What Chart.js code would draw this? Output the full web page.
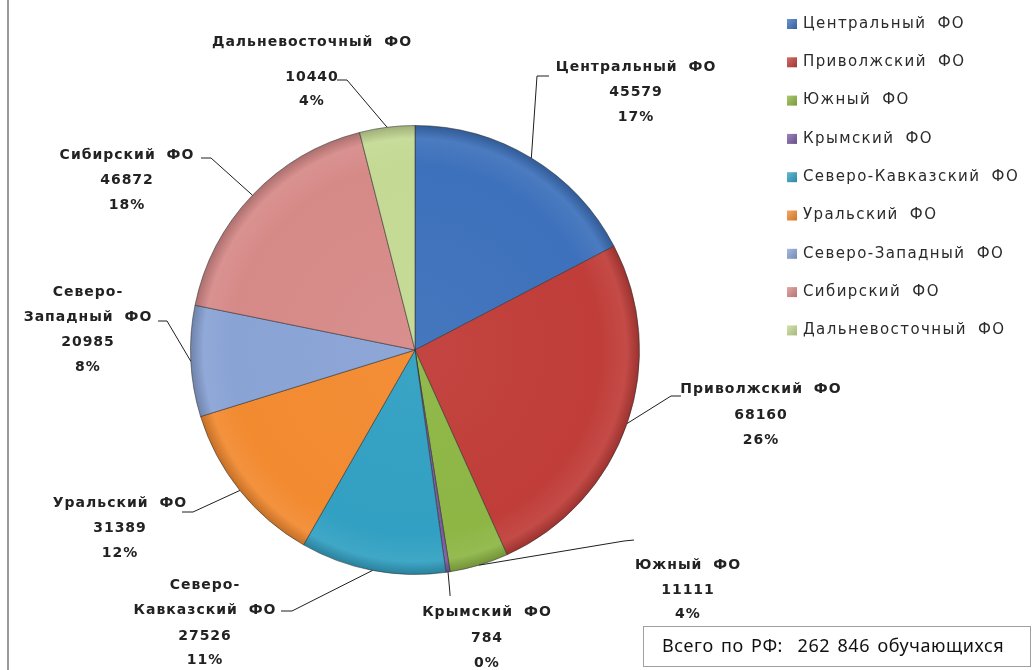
<!DOCTYPE html>
<html lang="ru">
<head>
<meta charset="utf-8">
<title>Обучающиеся по федеральным округам</title>
<script src="https://cdn.jsdelivr.net/npm/chart.js@4.4.1/dist/chart.umd.min.js"></script>
<style>
  html, body { margin: 0; padding: 0; background: #fff; }
  #wrap { width: 1032px; height: 670px; }
</style>
</head>
<body>
<div id="wrap"><canvas id="chart" width="1032" height="670"></canvas></div>
<script>
// data
const regions = ['Центральный ФО', 'Приволжский ФО', 'Южный ФО', 'Крымский ФО', 'Северо-Кавказский ФО',
    'Уральский ФО', 'Северо-Западный ФО', 'Сибирский ФО', 'Дальневосточный ФО'];
const students = [45579, 68160, 11111, 784, 27526, 31389, 20985, 46872, 10440];
const shares = [17, 26, 4, 0, 11, 12, 8, 18, 4];

const colors = ['#3d71bb', '#c03d39', '#8db645', '#7a5ca1', '#32a0c2', '#f28a30', '#89a3d5', '#d68a88', '#c4d993'];

// where each data label sits (centre x, line y's) and its leader tick
const labelPlaces = [
    { x: 636, y: [67, 92, 117], tick: [[549, 76], [537, 76]] },
    { x: 761, y: [389, 415, 440], tick: [[681, 396], [671, 396]] },
    { x: 688, y: [565, 590, 614], tick: [[634, 540], [624, 541]] },
    { x: 487, y: [612, 638, 663], tick: [[450, 596], [450, 594]] },
    { x: 205, y: [585, 610, 636, 660], tick: [[281, 611], [292, 611]] },
    { x: 120, y: [503, 528, 553], tick: [[182, 512], [193, 512]] },
    { x: 88, y: [292, 317, 342, 367], tick: [[158, 321], [167, 321]] },
    { x: 127, y: [155, 180, 205], tick: [[201, 158], [211, 158]] },
    { x: 312, y: [42, 77, 101], tick: [[337, 80], [347, 80]] }
];

const total = students.reduce((a, b) => a + b, 0);
const fmt = n => String(n).replace(/\B(?=(\d{3})+(?!\d))/g, ' ');

function shade(hex, amt) {
    const n = parseInt(hex.slice(1), 16);
    let r = n >> 16, g = (n >> 8) & 255, b = n & 255;
    const f = c => Math.round(amt >= 0 ? c + (255 - c) * amt : c * (1 + amt));
    return `rgb(${f(r)},${f(g)},${f(b)})`;
}

const gradients = [];
function sliceFill(context) {
    const i = context.dataIndex;
    const base = colors[i];
    const area = context.chart.chartArea;
    if (!area) return base;
    if (gradients[i]) return gradients[i];
    const ctx = context.chart.ctx;
    const cx = (area.left + area.right) / 2;
    const cy = (area.top + area.bottom) / 2;
    const r = Math.min(area.right - area.left, area.bottom - area.top) / 2;
    const g = ctx.createRadialGradient(cx, cy, 0, cx, cy, r);
    g.addColorStop(0, shade(base, 0.04));
    g.addColorStop(0.82, base);
    g.addColorStop(0.94, shade(base, 0.07));
    g.addColorStop(1, shade(base, -0.2));
    gradients[i] = g;
    return g;
}

const framePlugin = {
    id: 'frame',
    beforeDraw(chart) {
        const ctx = chart.ctx;
        ctx.save();
        ctx.strokeStyle = '#9a9a9a';
        ctx.lineWidth = 2;
        ctx.beginPath();
        ctx.moveTo(8, 0);
        ctx.lineTo(8, chart.height);
        ctx.stroke();
        ctx.restore();
    }
};

const dataLabelsPlugin = {
    id: 'dataLabels',
    afterDatasetsDraw(chart) {
        const ctx = chart.ctx;
        const meta = chart.getDatasetMeta(0);
        ctx.save();
        meta.data.forEach((arc, i) => {
            const { x, y, startAngle, endAngle, outerRadius } = arc.getProps(['x', 'y', 'startAngle', 'endAngle', 'outerRadius'], true);
            const mid = (startAngle + endAngle) / 2;
            const px = x + Math.cos(mid) * outerRadius;
            const py = y + Math.sin(mid) * outerRadius;
            const place = labelPlaces[i];

            ctx.strokeStyle = '#1e1e1e';
            ctx.lineWidth = 1;
            ctx.beginPath();
            ctx.moveTo(place.tick[0][0], place.tick[0][1]);
            ctx.lineTo(place.tick[1][0], place.tick[1][1]);
            ctx.lineTo(px, py);
            ctx.stroke();

            const name = chart.data.labels[i];
            let lines;
            if (place.y.length === 4) {
                const cut = name.indexOf('-') + 1;
                lines = [name.slice(0, cut), name.slice(cut)];
            } else {
                lines = [name];
            }
            lines.push(String(chart.data.datasets[0].data[i]), shares[i] + '%');

            ctx.fillStyle = '#222';
            ctx.font = 'bold 14px "DejaVu Sans"';
            ctx.letterSpacing = '1px';
            ctx.wordSpacing = '5px';
            ctx.textAlign = 'center';
            ctx.textBaseline = 'middle';
            lines.forEach((t, k) => ctx.fillText(t, place.x, place.y[k]));
        });
        ctx.restore();
    }
};

const legendPlugin = {
    id: 'sideLegend',
    afterDraw(chart) {
        const ctx = chart.ctx;
        ctx.save();
        ctx.font = '15px "DejaVu Sans"';
        ctx.letterSpacing = '1.4px';
        ctx.wordSpacing = '5px';
        ctx.textAlign = 'left';
        ctx.textBaseline = 'middle';
        chart.data.labels.forEach((label, i) => {
            const yy = 24 + i * 38.3;
            const c = colors[i];
            const g = ctx.createLinearGradient(787, yy - 5, 797, yy + 5);
            g.addColorStop(0, shade(c, 0.25));
            g.addColorStop(1, shade(c, -0.15));
            ctx.fillStyle = g;
            ctx.fillRect(787, yy - 5, 10, 10);
            ctx.fillStyle = '#2a2a2a';
            ctx.fillText(label, 803, yy);
        });

        // total box
        ctx.strokeStyle = '#a0a0a0';
        ctx.lineWidth = 1;
        ctx.strokeRect(643.5, 626.5, 387, 40);
        ctx.font = '18px "Noto Sans"';
        ctx.letterSpacing = '0.6px';
        ctx.wordSpacing = '2px';
        ctx.fillStyle = '#111';
        ctx.fillText('Всего по РФ:  ' + fmt(total) + ' обучающихся', 662, 647);
        ctx.restore();
    }
};

new Chart(document.getElementById('chart'), {
    type: 'pie',
    data: {
        labels: regions,
        datasets: [{
            data: students,
            backgroundColor: sliceFill,
            borderColor: 'rgba(45, 45, 45, 0.55)',
            borderWidth: 1
        }]
    },
    options: {
        responsive: false,
        animation: false,
        layout: { padding: { left: 190, right: 392, top: 125, bottom: 95 } },
        plugins: {
            legend: { display: false },
            tooltip: { enabled: false }
        }
    },
    plugins: [framePlugin, dataLabelsPlugin, legendPlugin]
});
</script>
</body>
</html>
